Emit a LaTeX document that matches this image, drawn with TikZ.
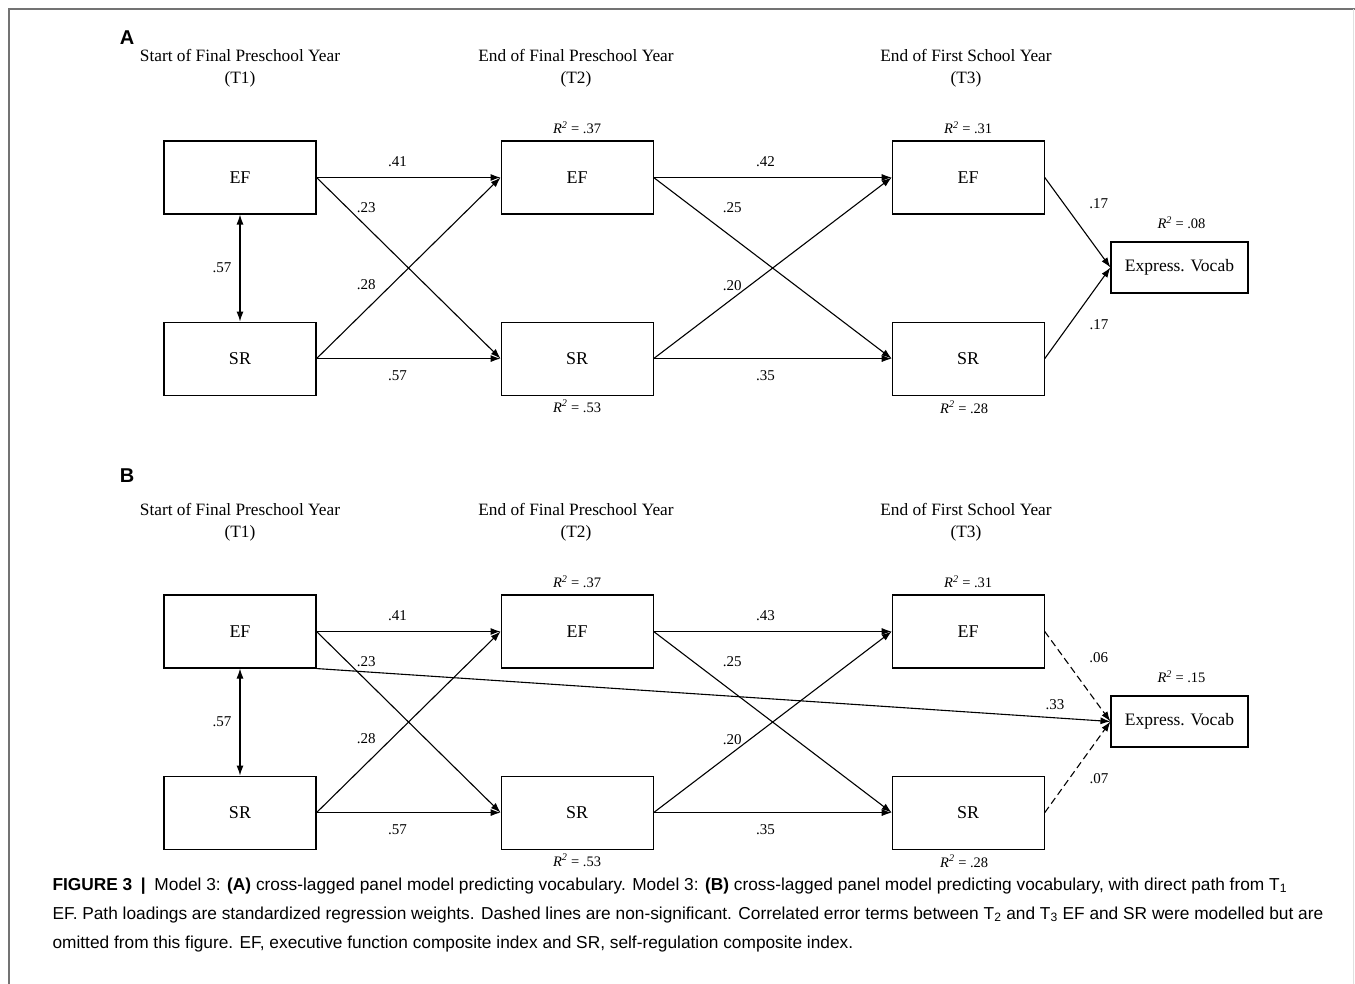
\documentclass[tikz,border=0pt]{standalone}
\usepackage{fontspec}
\setmainfont{Liberation Serif}
\setsansfont{Liberation Sans}
\usetikzlibrary{arrows.meta,positioning}
\tikzstyle{block} = [rectangle, draw, minimum width=152pt, minimum height=73pt, inner sep=0pt, font=\fontsize{18}{20}\selectfont]
\tikzstyle{vocab} = [block, minimum width=137pt, minimum height=51pt, font=\fontsize{17.5}{20}\selectfont]
\tikzstyle{coef} = [inner sep=0pt, font=\fontsize{15}{18}\selectfont]
\tikzstyle{rsq} = [inner sep=0pt, font=\fontsize{14.5}{17}\selectfont]
\tikzstyle{heading} = [align=center, inner sep=0pt, font=\fontsize{17.3}{22}\selectfont]
\tikzstyle{panel} = [inner sep=0pt, font=\sffamily\bfseries\fontsize{20}{22}\selectfont]
\tikzstyle{caption} = [align=left, inner sep=0pt, anchor=north west, font=\sffamily\fontsize{17.3}{29}\selectfont]
\tikzstyle{nonsig} = [dash pattern=on 7pt off 4pt]
\newcommand{\rsquared}[1]{\textit{R\textsuperscript{2}} = #1}

\begin{document}
\begin{tikzpicture}[x=1pt,y=-1pt,>={Latex[length=10pt,width=7pt]},line width=1.1pt]
    \useasboundingbox (0,0) rectangle (1355,984);
    \draw[line width=1.5pt, black!55] (9,984) -- (9,9) -- (1355,9);
    \draw[line width=1pt, black!12] (1353,9) -- (1353,984);

    % panel A
    \node [panel] (pa) at (127,38) {A};
    \node [heading] (ha1) at (240,68) {Start of Final Preschool Year\\(T1)};
    \node [heading] (ha2) at (576,68) {End of Final Preschool Year\\(T2)};
    \node [heading] (ha3) at (966,68) {End of First School Year\\(T3)};

    \node [block] (ef1a) at (240,177.5) {EF};
    \node [block, below=107pt of ef1a] (sr1a) {SR};
    \node [block, right=184pt of ef1a] (ef2a) {EF};
    \node [block, right=184pt of sr1a] (sr2a) {SR};
    \node [block, right=238pt of ef2a] (ef3a) {EF};
    \node [block, right=238pt of sr2a] (sr3a) {SR};
    \node [vocab] (voca) at (1179.5,267.5) {Express. Vocab};

    \node [rsq, above=6pt of ef2a] {\rsquared{.37}};
    \node [rsq, above=6pt of ef3a] {\rsquared{.31}};
    \node [rsq, below=4pt of sr2a] {\rsquared{.53}};
    \node [rsq, below=5pt of sr3a, xshift=-4pt] {\rsquared{.28}};
    \node [rsq, above=12pt of voca, xshift=2pt] {\rsquared{.08}};

     \draw[<->](ef1a) -- node[coef, xshift=-18pt]{.57}(sr1a);
     \draw[->](ef1a.east) -- node[coef, pos=.44, yshift=16pt]{.41}(ef2a.west);
     \draw[->](ef1a.east) -- node[coef, pos=.27, yshift=19pt]{.23}(sr2a.west);
     \draw[->](sr1a.east) -- node[coef, pos=.27, yshift=25pt]{.28}(ef2a.west);
     \draw[->](sr1a.east) -- node[coef, pos=.44, yshift=-17pt]{.57}(sr2a.west);
     \draw[->](ef2a.east) -- node[coef, pos=.47, yshift=16pt]{.42}(ef3a.west);
     \draw[->](ef2a.east) -- node[coef, pos=.33, yshift=30pt]{.25}(sr3a.west);
     \draw[->](sr2a.east) -- node[coef, pos=.33, yshift=13pt]{.20}(ef3a.west);
     \draw[->](sr2a.east) -- node[coef, pos=.47, yshift=-17pt]{.35}(sr3a.west);
     \draw[->](ef3a.east) -- node[coef, pos=.29, xshift=35pt]{.17}(voca.west);
     \draw[->](sr3a.east) -- node[coef, pos=.37, xshift=30pt]{.17}(voca.west);

    % panel B
    \node [panel] (pb) at (127,476) {B};
    \node [heading] (hb1) at (240,522) {Start of Final Preschool Year\\(T1)};
    \node [heading] (hb2) at (576,522) {End of Final Preschool Year\\(T2)};
    \node [heading] (hb3) at (966,522) {End of First School Year\\(T3)};

    \node [block] (ef1b) at (240,631.5) {EF};
    \node [block, below=107pt of ef1b] (sr1b) {SR};
    \node [block, right=184pt of ef1b] (ef2b) {EF};
    \node [block, right=184pt of sr1b] (sr2b) {SR};
    \node [block, right=238pt of ef2b] (ef3b) {EF};
    \node [block, right=238pt of sr2b] (sr3b) {SR};
    \node [vocab] (vocb) at (1179.5,721.5) {Express. Vocab};

    \node [rsq, above=6pt of ef2b] {\rsquared{.37}};
    \node [rsq, above=6pt of ef3b] {\rsquared{.31}};
    \node [rsq, below=4pt of sr2b] {\rsquared{.53}};
    \node [rsq, below=5pt of sr3b, xshift=-4pt] {\rsquared{.28}};
    \node [rsq, above=12pt of vocb, xshift=2pt] {\rsquared{.15}};

     \draw[<->](ef1b) -- node[coef, xshift=-18pt]{.57}(sr1b);
     \draw[->](ef1b.east) -- node[coef, pos=.44, yshift=16pt]{.41}(ef2b.west);
     \draw[->](ef1b.east) -- node[coef, pos=.27, yshift=19pt]{.23}(sr2b.west);
     \draw[->](sr1b.east) -- node[coef, pos=.27, yshift=25pt]{.28}(ef2b.west);
     \draw[->](sr1b.east) -- node[coef, pos=.44, yshift=-17pt]{.57}(sr2b.west);
     \draw[->](ef2b.east) -- node[coef, pos=.47, yshift=16pt]{.43}(ef3b.west);
     \draw[->](ef2b.east) -- node[coef, pos=.33, yshift=30pt]{.25}(sr3b.west);
     \draw[->](sr2b.east) -- node[coef, pos=.33, yshift=13pt]{.20}(ef3b.west);
     \draw[->](sr2b.east) -- node[coef, pos=.47, yshift=-17pt]{.35}(sr3b.west);
     \draw[->](ef1b.south east) -- node[coef, pos=.93, yshift=13pt]{.33}(vocb.west);
     \draw[->, nonsig](ef3b.east) -- node[coef, pos=.29, xshift=35pt]{.06}(vocb.west);
     \draw[->, nonsig](sr3b.east) -- node[coef, pos=.37, xshift=30pt]{.07}(vocb.west);

    % caption
    \node [caption] (cap) at (52,877) {\textbf{FIGURE 3}\enspace\textbf{|}\enspace Model 3: \textbf{(A)} cross-lagged panel model predicting vocabulary. Model 3: \textbf{(B)} cross-lagged panel model predicting vocabulary, with direct path from T\textsubscript{1}\\
    EF. Path loadings are standardized regression weights. Dashed lines are non-significant. Correlated error terms between T\textsubscript{2} and T\textsubscript{3} EF and SR were modelled but are\\
    omitted from this figure. EF, executive function composite index and SR, self-regulation composite index.};
\end{tikzpicture}
\end{document}
